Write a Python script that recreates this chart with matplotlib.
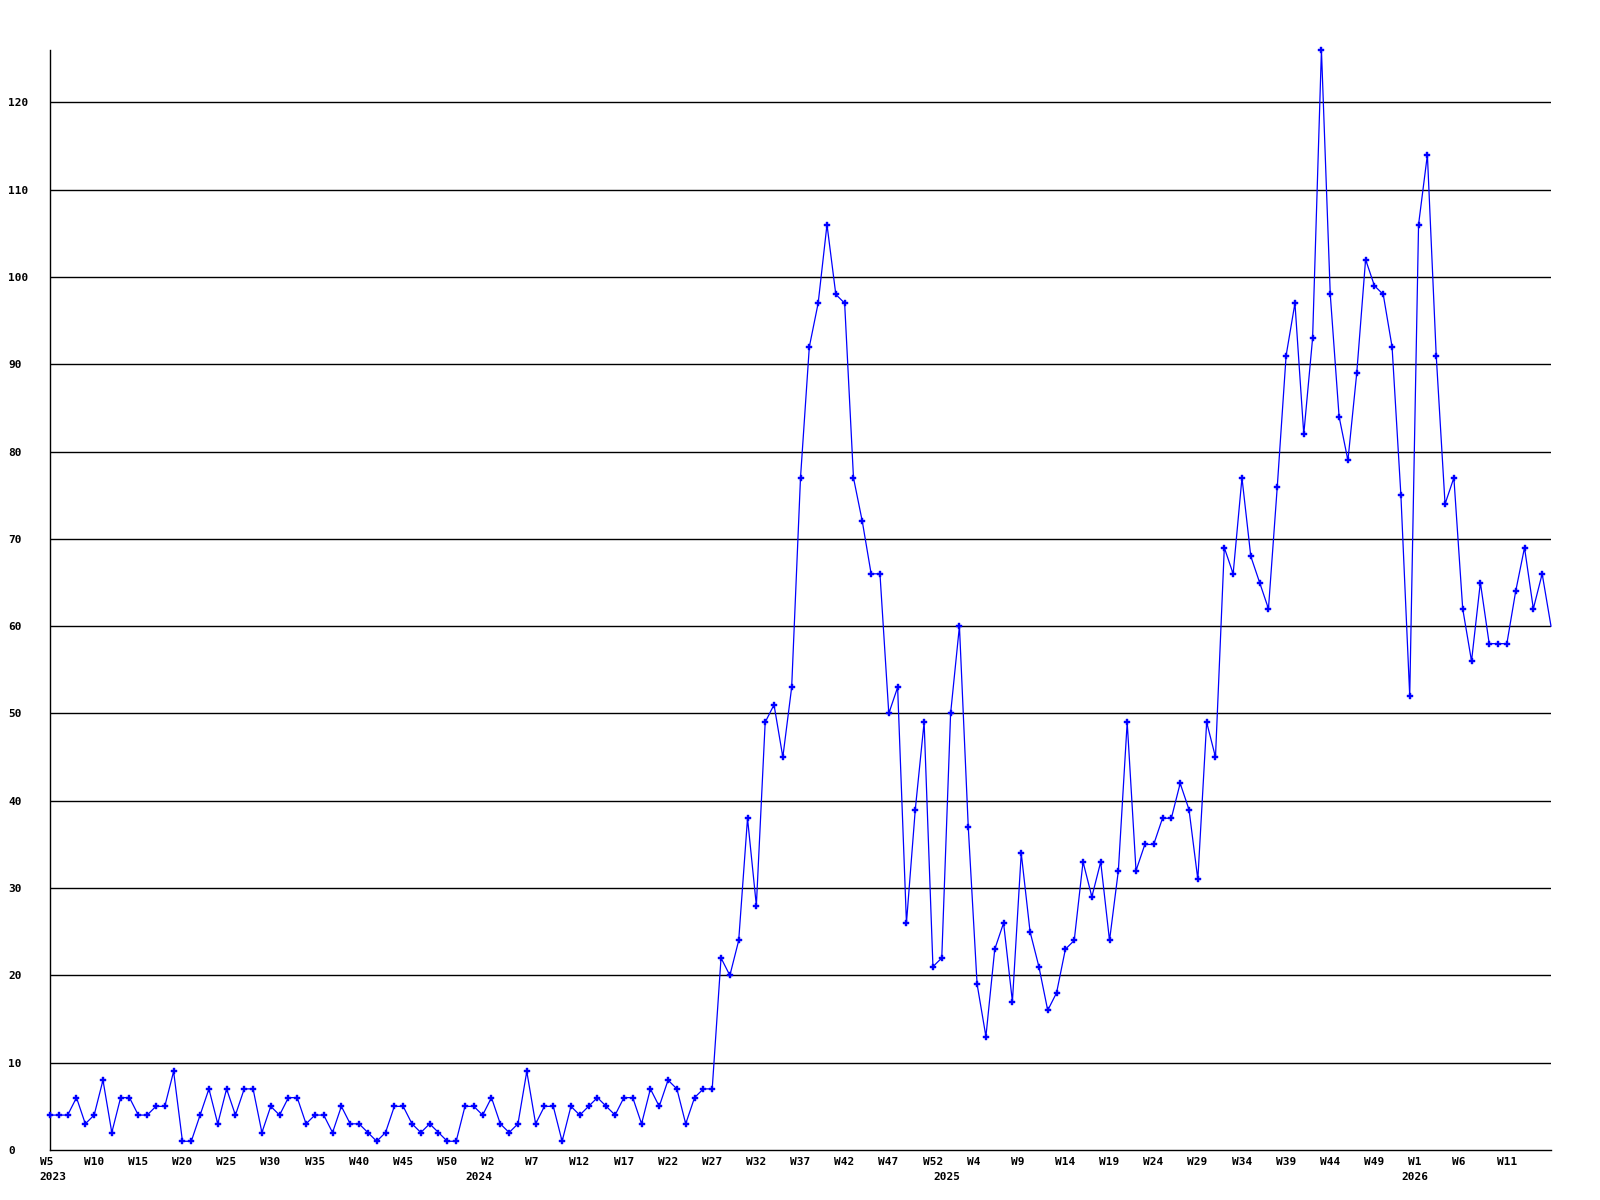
import matplotlib
matplotlib.use("Agg")
import matplotlib.pyplot as plt

# weekly counts, first point is 2023 W5 slot
values = [
    4, 4, 4, 6, 3, 4, 8, 2, 6, 6,
    4, 4, 5, 5, 9, 1, 1, 4, 7, 3,
    7, 4, 7, 7, 2, 5, 4, 6, 6, 3,
    4, 4, 2, 5, 3, 3, 2, 1, 2, 5,
    5, 3, 2, 3, 2, 1, 1, 5, 5, 4,
    6, 3, 2, 3, 9, 3, 5, 5, 1, 5,
    4, 5, 6, 5, 4, 6, 6, 3, 7, 5,
    8, 7, 3, 6, 7, 7, 22, 20, 24, 38,
    28, 49, 51, 45, 53, 77, 92, 97, 106, 98,
    97, 77, 72, 66, 66, 50, 53, 26, 39, 49,
    21, 22, 50, 60, 37, 19, 13, 23, 26, 17,
    34, 25, 21, 16, 18, 23, 24, 33, 29, 33,
    24, 32, 49, 32, 35, 35, 38, 38, 42, 39,
    31, 49, 45, 69, 66, 77, 68, 65, 62, 76,
    91, 97, 82, 93, 126, 98, 84, 79, 89, 102,
    99, 98, 92, 75, 52, 106, 114, 91, 74, 77,
    62, 56, 65, 58, 58, 58, 64, 69, 62, 66,
    60,
]

tick_labels = ["W5", "W10", "W15", "W20", "W25", "W30", "W35", "W40", "W45", "W50",
               "W2", "W7", "W12", "W17", "W22", "W27", "W32", "W37", "W42", "W47", "W52",
               "W4", "W9", "W14", "W19", "W24", "W29", "W34", "W39", "W44", "W49",
               "W1", "W6", "W11"]
tick_years = [2023] * 10 + [2024] * 11 + [2025] * 10 + [2026] * 3
years = [2023, 2024, 2025, 2026]
y_ticks = [0, 10, 20, 30, 40, 50, 60, 70, 80, 90, 100, 110, 120]


def week_pos(year, week):
    # each year takes 53 slots on the axis, 2023 W5 sits just left of the first point
    return 48 + 53 * (year - 2024) + week - 1


font = dict(family="DejaVu Sans Mono", fontsize=8, fontweight="bold", color="black")

fig = plt.figure(figsize=(16, 12), dpi=100)
ax = fig.add_axes([50 / 1600, 50 / 1200, 1501 / 1600, 1100 / 1200])

x = list(range(len(values)))
ax.plot(x, values, color="#0000ff", linewidth=0.9, marker="P", markersize=5,
        markeredgewidth=0.3, markeredgecolor="#0000ff",
        markevery=list(range(len(values) - 1)), zorder=3, clip_on=False)

ax.set_xlim(0, len(values) - 1)
ax.set_ylim(0, max(values))

for v in y_ticks[1:]:
    ax.axhline(v, color="black", linewidth=1.0, zorder=1)

for s in ["top", "right"]:
    ax.spines[s].set_visible(False)
for s in ["left", "bottom"]:
    ax.spines[s].set_linewidth(1.0)
    ax.spines[s].set_color("black")

ax.set_xticks([])
ax.set_yticks(y_ticks)
ax.set_yticklabels([str(v) for v in y_ticks], ha="left", **font)
ax.tick_params(axis="y", length=0, pad=30)

for lab, yr in zip(tick_labels, tick_years):
    w = int(lab[1:])
    ax.annotate(lab, xy=(week_pos(yr, w), 0), xycoords=("data", "axes fraction"),
                xytext=(-1.5, -12), textcoords="offset pixels",
                ha="left", va="center", annotation_clip=False, **font)

for yr in years:
    if yr == tick_years[0]:
        ax.annotate(str(yr), xy=(week_pos(yr, int(tick_labels[0][1:])), 0),
                    xycoords=("data", "axes fraction"), xytext=(-1.5, -27),
                    textcoords="offset pixels", ha="left", va="center",
                    annotation_clip=False, **font)
    else:
        ax.annotate(str(yr), xy=(week_pos(yr, 1), 0), xycoords=("data", "axes fraction"),
                    xytext=(5, -27), textcoords="offset pixels",
                    ha="center", va="center", annotation_clip=False, **font)

fig.savefig("out.png", dpi=100, facecolor="white")
